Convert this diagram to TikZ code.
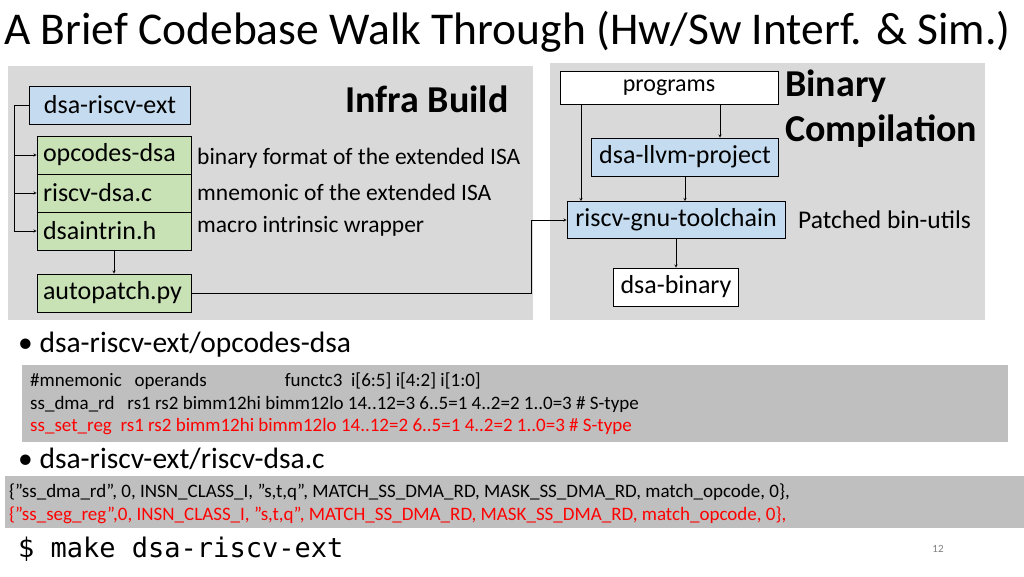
\documentclass[tikz,border=0pt]{standalone}
\usepackage{fontspec}
\setmainfont{Carlito}
\setmonofont{DejaVu Sans Mono}
\usetikzlibrary{positioning}
\definecolor{panelgray}{HTML}{D9D9D9}
\definecolor{codegray}{HTML}{BFBFBF}
\definecolor{boxblue}{HTML}{C5DCF0}
\definecolor{boxgreen}{HTML}{C8E2B6}
\definecolor{codered}{HTML}{FF0000}
\newcommand\dq{\symbol{34}}
\begin{document}
\begin{tikzpicture}[x=1pt,y=-1pt,
	file/.style={draw,thick,minimum height=38pt,inner sep=0pt,font=\fontsize{26}{28}\selectfont},
	note/.style={anchor=west,inner sep=0pt,font=\fontsize{23.5}{26}\selectfont},
	codeline/.style={anchor=west,inner sep=0pt,font=\fontsize{19}{21}\selectfont},
	arr/.style={->,>=stealth,thin}]
	\useasboundingbox (0,0) rectangle (1024,576);
	% panels
	\fill[panelgray] (8,66) rectangle (533,320);
	\fill[panelgray] (550,63) rectangle (985,320);
	\fill[codegray] (22,365) rectangle (1008,442);
	\fill[codegray] (5,476) rectangle (1024,528);
	% title
	\node[anchor=west,inner sep=0pt,font=\fontsize{45.5}{48}\selectfont] (title) at (4,32) {A Brief Codebase Walk Through (Hw/Sw Interf. \& Sim.)};
	% infra build
	\path (110,105) node(ext)[file,fill=boxblue,minimum width=161pt]{dsa-riscv-ext}
		(114,155) node(opc)[file,fill=boxgreen,minimum width=154pt,text width=142pt]{opcodes-dsa}
		(114,193) node(rdc)[file,fill=boxgreen,minimum width=154pt,text width=142pt]{riscv-dsa.c}
		(114,231) node(intr)[file,fill=boxgreen,minimum width=154pt,text width=142pt]{dsaintrin.h}
		(114,293) node(auto)[file,fill=boxgreen,minimum width=154pt,text width=142pt]{autopatch.py};
	\node[note] (opcnote) at (197,158) {binary format of the extended ISA};
	\node[note] (rdcnote) at (197,192) {mnemonic of the extended ISA};
	\node[note] (intrnote) at (197,226) {macro intrinsic wrapper};
	\node[font=\bfseries\fontsize{38}{40}\selectfont] (infra) at (427,99) {Infra Build};
	\coordinate (bend) at (14,105);
	\draw[thick] (ext.west) -- (bend) -- (14,231);
	\draw[arr] (14,155) -- (opc.west);
	\draw[arr] (14,193) -- (rdc.west);
	\draw[arr] (14,231) -- (intr.west);
	\draw[arr] (intr.south) -- (auto.north);
	% binary compilation
	\path (669,88) node(prog)[file,fill=white,minimum width=218pt,minimum height=33pt,font=\fontsize{24}{26}\selectfont]{programs}
		(685,157) node(llvm)[file,fill=boxblue,minimum width=187pt]{dsa-llvm-project}
		(676,220) node(gnu)[file,fill=boxblue,minimum width=218pt,minimum height=37pt]{riscv-gnu-toolchain}
		(676,287) node(bin)[file,fill=white,minimum width=125pt]{dsa-binary};
	\node[anchor=west,inner sep=0pt,font=\bfseries\fontsize{38}{40}\selectfont] (bintitle) at (785,86) {Binary};
	\node[anchor=west,inner sep=0pt,font=\bfseries\fontsize{38}{40}\selectfont] (comptitle) at (785,131) {Compilation};
	\node[note,font=\fontsize{25.5}{28}\selectfont] (patched) at (798,220) {Patched bin-utils};
	\draw[arr] (prog.south -| 581,0) -- (gnu.north -| 581,0);
	\draw[arr] (prog.south -| 720,0) -- (llvm.north -| 720,0);
	\draw[arr] (llvm.south) -- (llvm.south |- gnu.north);
	\draw[arr] (gnu.south) -- (gnu.south |- bin.north);
	\coordinate (turn) at (531,220);
	\draw[arr] (auto.east) -- (auto.east -| turn) -- (turn) -- (gnu.west);
	% code listings
	\node[anchor=west,inner sep=0pt,font=\fontsize{29.5}{32}\selectfont] (b1) at (18,345) {\textbullet\ dsa-riscv-ext/opcodes-dsa};
	\node[codeline] (l1) at (30,381) {\#mnemonic\ \ \ operands\hspace{78pt}functc3\ \ i[6:5] i[4:2] i[1:0]};
	\node[codeline] (l2) at (30,404) {ss\_dma\_rd\ \ \ rs1 rs2 bimm12hi bimm12lo 14..12=3 6..5=1 4..2=2 1..0=3 \# S-type};
	\node[codeline,text=codered] (l3) at (30,427) {ss\_set\_reg\ \ rs1 rs2 bimm12hi bimm12lo 14..12=2 6..5=1 4..2=2 1..0=3 \# S-type};
	\node[anchor=west,inner sep=0pt,font=\fontsize{29.5}{32}\selectfont] (b2) at (18,459) {\textbullet\ dsa-riscv-ext/riscv-dsa.c};
	\node[codeline] (c1) at (9,492) {\{\dq ss\_dma\_rd\dq, 0, INSN\_CLASS\_I, \dq s,t,q\dq, MATCH\_SS\_DMA\_RD, MASK\_SS\_DMA\_RD, match\_opcode, 0\},};
	\node[codeline,text=codered] (c2) at (9,515) {\{\dq ss\_seg\_reg\dq,0, INSN\_CLASS\_I, \dq s,t,q\dq, MATCH\_SS\_DMA\_RD, MASK\_SS\_DMA\_RD, match\_opcode, 0\},};
	\node[anchor=west,inner sep=0pt,font=\ttfamily\fontsize{27}{30}\selectfont] (make) at (18,549) {\$ make dsa-riscv-ext};
	\node[text=gray,font=\fontsize{11}{12}\selectfont] (page) at (938,549) {12};
\end{tikzpicture}
\end{document}
